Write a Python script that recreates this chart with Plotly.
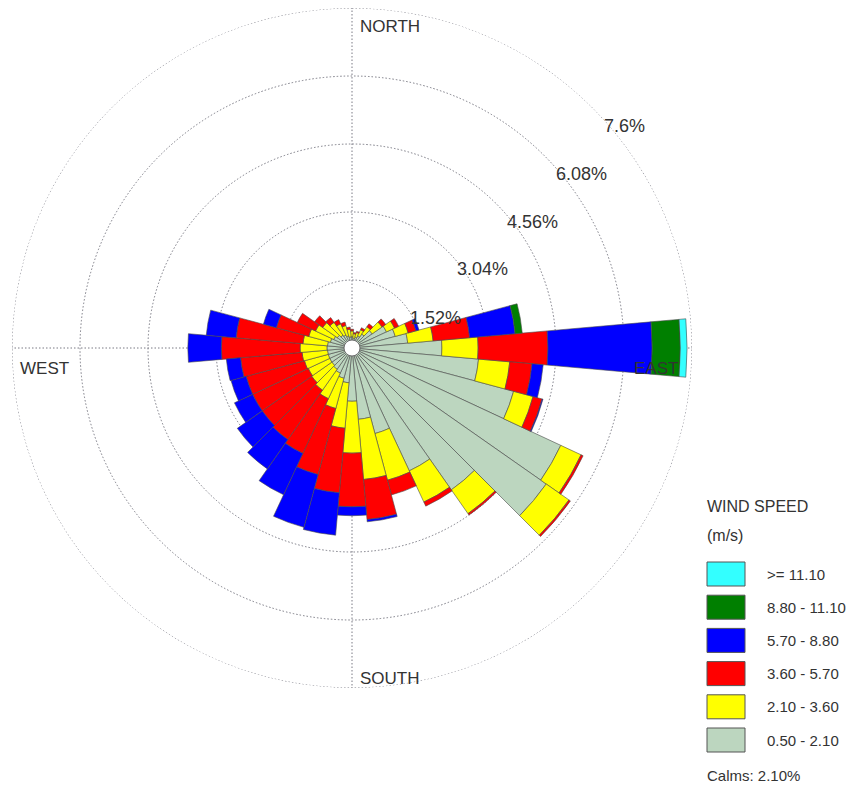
import math
import plotly.graph_objects as go

# Wind directions (degrees, blowing from), 10-degree sectors
directions = list(range(0, 360, 10))

# Frequency (% of hours) per direction for each wind-speed class
spd_050_210 = [0.25, 0.22, 0.25, 0.30, 0.38, 0.55, 0.85, 1.00, 1.25, 2.01,
               2.84, 3.74, 5.15, 5.30, 3.87, 3.03, 1.98, 1.60, 1.19, 0.78,
               0.70, 0.62, 0.58, 0.55, 0.55, 0.55, 0.55, 0.56, 0.55, 0.50,
               0.45, 0.40, 0.35, 0.32, 0.28, 0.25]
spd_210_360 = [0.13, 0.10, 0.11, 0.15, 0.20, 0.27, 0.20, 0.30, 0.57, 0.81,
               0.70, 0.45, 0.50, 0.62, 0.65, 0.77, 1.08, 1.35, 1.16, 1.02,
               0.70, 0.63, 0.57, 0.55, 0.53, 0.55, 0.57, 0.60, 0.55, 0.50,
               0.45, 0.40, 0.35, 0.28, 0.24, 0.17]
spd_360_570 = [0.04, 0.03, 0.03, 0.05, 0.08, 0.10, 0.10, 0.18, 0.82, 1.56,
               0.50, 0.21, 0.05, 0.04, 0.04, 0.10, 0.34, 0.90, 1.20, 1.45,
               1.53, 1.35, 1.35, 1.35, 1.37, 1.35, 1.38, 1.76, 1.50, 0.75,
               0.45, 0.22, 0.13, 0.10, 0.08, 0.05]
spd_570_880 = [0.00, 0.00, 0.00, 0.00, 0.00, 0.00, 0.00, 0.07, 1.02, 2.33,
               0.25, 0.02, 0.00, 0.00, 0.00, 0.00, 0.00, 0.05, 0.20, 0.95,
               1.22, 1.02, 0.80, 0.68, 0.45, 0.35, 0.32, 0.75, 0.67, 0.30,
               0.00, 0.00, 0.00, 0.00, 0.00, 0.00]
spd_880_1110 = [0.0] * 8 + [0.16, 0.63] + [0.0] * 26
spd_ge_1110 = [0.0] * 9 + [0.15] + [0.0] * 26

classes = [
    ("0.50 - 2.10", spd_050_210, "#bcd6bf"),
    ("2.10 - 3.60", spd_210_360, "#ffff00"),
    ("3.60 - 5.70", spd_360_570, "#ff0000"),
    ("5.70 - 8.80", spd_570_880, "#0000ff"),
    ("8.80 - 11.10", spd_880_1110, "#007f00"),
    (">= 11.10", spd_ge_1110, "#33ffff"),
]

ring_values = [1.52, 3.04, 4.56, 6.08, 7.6]
ring_labels = ["1.52%", "3.04%", "4.56%", "6.08%", "7.6%"]
calms_pct = 2.10

W, H = 865, 789
CX, CY, R = 352, 348, 340  # plot centre and outer radius in pixels
RMAX = 7.6
GRID = "#7a7a84"
DOTS = "1.5px,2px"

fig = go.Figure()
for name, vals, col in classes:
    fig.add_trace(go.Barpolar(
        r=vals, theta=directions, width=[10] * len(directions), name=name,
        marker=dict(color=col, line=dict(color="#4a4a4a", width=0.6)),
        showlegend=False,
    ))

# outer dotted ring
ring_theta = list(range(0, 361, 2))
fig.add_trace(go.Scatterpolar(
    r=[RMAX] * len(ring_theta), theta=ring_theta, mode="lines", showlegend=False,
    line=dict(color=GRID, width=1, dash=DOTS), cliponaxis=False, hoverinfo="skip",
))

# calm circle in the middle
fig.add_trace(go.Scatterpolar(
    r=[0], theta=[0], mode="markers", showlegend=False,
    marker=dict(size=16, color="white", line=dict(color="#707070", width=1)),
))

fig.update_layout(
    width=W, height=H,
    margin=dict(l=0, r=0, t=0, b=0),
    paper_bgcolor="white",
    font=dict(family="Liberation Sans, Arial, sans-serif", color="#333333"),
    polar=dict(
        domain=dict(x=[(CX - R) / W, (CX + R) / W],
                    y=[(H - CY - R) / H, (H - CY + R) / H]),
        bgcolor="white",
        barmode="stack",
        radialaxis=dict(range=[0, RMAX], tickvals=ring_values, showticklabels=False,
                        ticks="", showline=False, gridcolor=GRID,
                        griddash=DOTS, gridwidth=1),
        angularaxis=dict(direction="clockwise", rotation=90, tickvals=[0, 90, 180, 270],
                         showticklabels=False, ticks="", showline=False,
                         gridcolor=GRID, griddash=DOTS, gridwidth=1),
    ),
)


def to_paper(r_pct, theta_deg):
    d = r_pct / RMAX * R
    px = CX + d * math.sin(math.radians(theta_deg))
    py = CY - d * math.cos(math.radians(theta_deg))
    return px / W, 1 - py / H


# ring labels along the north-east diagonal
label_r = [1.99, 3.41, 4.92, 6.43, 7.86]
label_theta = [70, 59, 55, 52.8, 50.8]
for txt, rr, tt in zip(ring_labels, label_r, label_theta):
    x, y = to_paper(rr, tt)
    fig.add_annotation(x=x, y=y, xref="paper", yref="paper", text=txt,
                       showarrow=False, font=dict(size=18, color="#333333"),
                       xanchor="center", yanchor="middle")

# compass labels
for txt, px, py in [("NORTH", 358, 26), ("EAST", 632, 368),
                    ("SOUTH", 358, 678), ("WEST", 18, 368)]:
    fig.add_annotation(x=px / W, y=1 - py / H, xref="paper", yref="paper", text=txt,
                       showarrow=False, font=dict(size=17, color="#333333"),
                       xanchor="left", yanchor="middle")

# speed-class key
fig.add_annotation(x=705 / W, y=1 - 506 / H, xref="paper", yref="paper",
                   text="WIND SPEED", showarrow=False, xanchor="left", yanchor="middle",
                   font=dict(size=16, color="#333333"))
fig.add_annotation(x=705 / W, y=1 - 535 / H, xref="paper", yref="paper",
                   text="(m/s)", showarrow=False, xanchor="left", yanchor="middle",
                   font=dict(size=16, color="#333333"))
for i, (name, vals, col) in enumerate(reversed(classes)):
    top = 562 + i * 33.2
    fig.add_shape(type="rect", xref="paper", yref="paper",
                  x0=707 / W, x1=745 / W, y0=1 - (top + 24) / H, y1=1 - top / H,
                  fillcolor=col, line=dict(color="#555555", width=1))
    fig.add_annotation(x=765 / W, y=1 - (top + 12) / H, xref="paper", yref="paper",
                       text=name, showarrow=False, xanchor="left", yanchor="middle",
                       font=dict(size=15, color="#333333"))
fig.add_annotation(x=705 / W, y=1 - 775 / H, xref="paper", yref="paper",
                   text=f"Calms: {calms_pct:.2f}%", showarrow=False,
                   xanchor="left", yanchor="middle", font=dict(size=15, color="#333333"))

fig.write_html("out.html")
